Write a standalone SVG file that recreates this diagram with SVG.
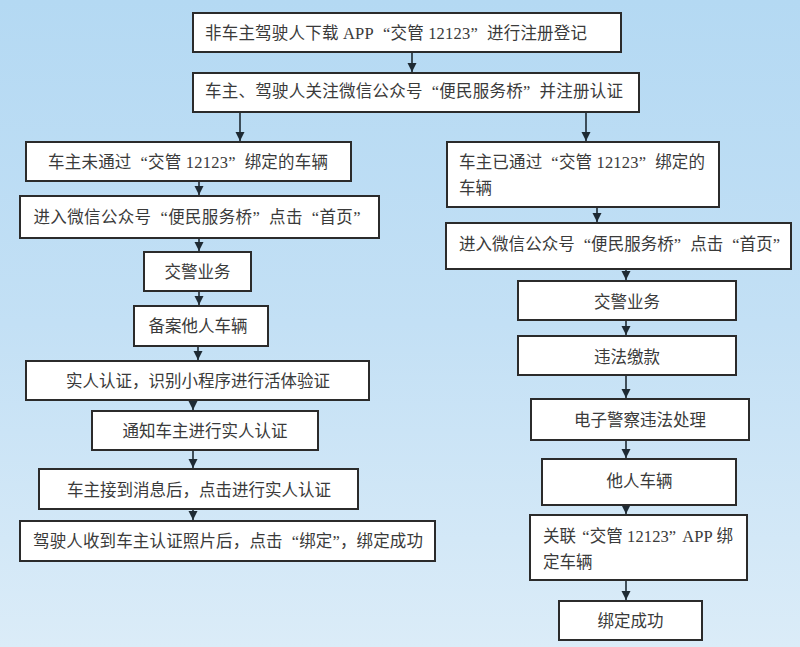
<svg xmlns="http://www.w3.org/2000/svg" width="800" height="647" viewBox="0 0 800 647">
<defs>
<linearGradient id="bg" x1="0" y1="0" x2="0" y2="1">
<stop offset="0" stop-color="#b4d9f3"/>
<stop offset="0.5" stop-color="#c3e0f5"/>
<stop offset="1" stop-color="#dbecf8"/>
</linearGradient>
<marker id="ah" viewBox="0 0 10 10" refX="10" refY="5" markerWidth="9" markerHeight="10" markerUnits="userSpaceOnUse" orient="auto">
<path d="M0,0 L10,5 L0,10 z" fill="#1e2a33"/>
</marker>
<style>
.box{fill:#ffffff;stroke:#2b2b2b;stroke-width:2}
.t{font-family:"Liberation Serif","Noto Sans CJK SC",serif;font-size:16.5px;fill:#3a3a3a}
.m{text-anchor:middle}
.c line{stroke:#1e2a33;stroke-width:1.6;marker-end:url(#ah)}
</style>
</defs>
<rect x="0" y="0" width="800" height="647" fill="url(#bg)"/>

<g id="connectors" class="c">
<line x1="412" y1="52" x2="412" y2="72"/>
<line x1="240" y1="112" x2="240" y2="141"/>
<line x1="586" y1="112" x2="586" y2="141"/>
<line x1="199" y1="181" x2="199" y2="195"/>
<line x1="199" y1="238" x2="199" y2="251"/>
<line x1="199" y1="291" x2="199" y2="305"/>
<line x1="198" y1="346" x2="198" y2="360"/>
<line x1="193" y1="400" x2="193" y2="410"/>
<line x1="193" y1="450" x2="193" y2="468"/>
<line x1="193" y1="509" x2="193" y2="520"/>
<line x1="597" y1="207" x2="597" y2="222"/>
<line x1="626" y1="269" x2="626" y2="280"/>
<line x1="626" y1="320" x2="626" y2="335"/>
<line x1="626" y1="375" x2="626" y2="398"/>
<line x1="626" y1="440" x2="626" y2="458"/>
<line x1="626" y1="505" x2="626" y2="514"/>
<line x1="626" y1="580" x2="626" y2="600"/>
</g>

<g id="n1"><rect class="box" x="193" y="13" width="428" height="39"/>
<text class="t" x="205" y="39" textLength="382">非车主驾驶人下载 APP<tspan dx="9">“</tspan>交管 12123”<tspan dx="9">进</tspan>行注册登记</text></g>
<g id="n2"><rect class="box" x="193" y="73" width="446" height="39"/>
<text class="t" x="205" y="97" textLength="418">车主、驾驶人关注微信公众号<tspan dx="9">“</tspan>便民服务桥”<tspan dx="9">并</tspan>注册认证</text></g>

<g id="l1"><rect class="box" x="26" y="142" width="325" height="39"/>
<text class="t m" x="188" y="168" textLength="280">车主未通过<tspan dx="9">“</tspan>交管 12123”<tspan dx="9">绑</tspan>定的车辆</text></g>
<g id="l2"><rect class="box" x="20" y="196" width="359" height="42"/>
<text class="t m" x="197" y="223" textLength="327">进入微信公众号<tspan dx="9">“</tspan>便民服务桥”<tspan dx="9">点</tspan>击<tspan dx="9">“</tspan>首页”</text></g>
<g id="l3"><rect class="box" x="144" y="252" width="107" height="39"/>
<text class="t m" x="197.5" y="278">交警业务</text></g>
<g id="l4"><rect class="box" x="134" y="306" width="134" height="40"/>
<text class="t m" x="198" y="332">备案他人车辆</text></g>
<g id="l5"><rect class="box" x="26" y="361" width="343" height="39"/>
<text class="t m" x="198" y="387">实人认证，识别小程序进行活体验证</text></g>
<g id="l6"><rect class="box" x="92" y="411" width="226" height="39"/>
<text class="t m" x="205" y="437">通知车主进行实人认证</text></g>
<g id="l7"><rect class="box" x="39" y="469" width="319" height="40"/>
<text class="t m" x="199" y="496">车主接到消息后，点击进行实人认证</text></g>
<g id="l8"><rect class="box" x="20" y="521" width="415" height="40"/>
<text class="t m" x="228" y="547" textLength="390">驾驶人收到车主认证照片后，点击<tspan dx="9">“</tspan>绑定”，绑定成功</text></g>

<g id="r1"><rect class="box" x="447" y="142" width="272" height="65"/>
<text class="t" x="459" y="168" textLength="246">车主已通过<tspan dx="9">“</tspan>交管 12123”<tspan dx="9">绑</tspan>定的</text>
<text class="t" x="459" y="194">车辆</text></g>
<g id="r2"><rect class="box" x="446" y="223" width="345" height="46"/>
<text class="t" x="459" y="250" textLength="321">进入微信公众号<tspan dx="9">“</tspan>便民服务桥”<tspan dx="9">点</tspan>击<tspan dx="9">“</tspan>首页”</text></g>
<g id="r3"><rect class="box" x="518" y="281" width="218" height="39"/>
<text class="t m" x="627" y="308">交警业务</text></g>
<g id="r4"><rect class="box" x="518" y="336" width="218" height="39"/>
<text class="t m" x="627" y="363">违法缴款</text></g>
<g id="r5"><rect class="box" x="531" y="399" width="218" height="41"/>
<text class="t m" x="640" y="426">电子警察违法处理</text></g>
<g id="r6"><rect class="box" x="542" y="459" width="194" height="46"/>
<text class="t m" x="639.5" y="487">他人车辆</text></g>
<g id="r7"><rect class="box" x="530" y="515" width="217" height="65"/>
<text class="t" x="543" y="542" textLength="190">关联<tspan dx="6">“</tspan>交管 12123”<tspan dx="6">APP</tspan> 绑</text>
<text class="t" x="543" y="568">定车辆</text></g>
<g id="r8"><rect class="box" x="559" y="601" width="143" height="39"/>
<text class="t m" x="630.5" y="627">绑定成功</text></g>
</svg>
